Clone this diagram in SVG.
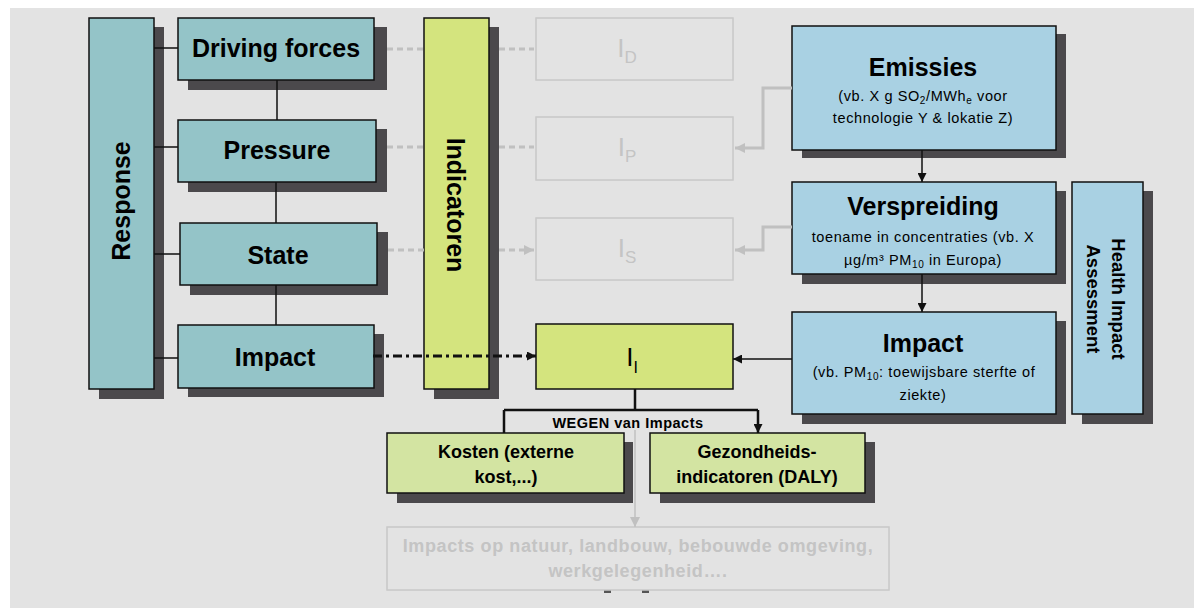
<svg xmlns="http://www.w3.org/2000/svg" width="1194" height="608" viewBox="0 0 1194 608">
<defs>
<style>
.sh{fill:#4b494c}
.teal{fill:#94c4c8;stroke:#111;stroke-width:1.5}
.blue{fill:#a9d1e3;stroke:#111;stroke-width:1.5}
.yel{fill:#d4e47e;stroke:#111;stroke-width:1.5}
.lgr{fill:#d3e4a2;stroke:#111;stroke-width:1.5}
.ghost{fill:none;stroke:#c8c8c8;stroke-width:1.5}
.t{font-family:"Liberation Sans",Arial,sans-serif;fill:#000;text-anchor:middle}
.big{font-size:25px;font-weight:bold}
.small{font-size:14.5px;letter-spacing:0.6px}
.mid{font-size:18px;font-weight:bold}
.gt{fill:#c4c4c4}
.ln{stroke:#111;stroke-width:1.5;fill:none}
.gl{stroke:#c0c0c0;stroke-width:3;fill:none}
.gd{stroke:#c0c0c0;stroke-width:3;fill:none;stroke-dasharray:6 4}
</style>
<marker id="ab" viewBox="0 0 10 10" refX="10" refY="5" markerWidth="9" markerHeight="9" markerUnits="userSpaceOnUse" orient="auto"><path d="M0,0L10,5L0,10z" fill="#111"/></marker>
<marker id="ag" viewBox="0 0 10 10" refX="10" refY="5" markerWidth="10" markerHeight="10" markerUnits="userSpaceOnUse" orient="auto"><path d="M0,0L10,5L0,10z" fill="#c0c0c0"/></marker>
</defs>
<rect x="0" y="0" width="1194" height="608" fill="#fff"/>
<rect x="10" y="8" width="1184" height="600" fill="#e3e3e3"/>

<g id="response">
<rect class="sh" x="99" y="27" width="65" height="372"/>
<rect class="teal" x="89" y="18" width="65" height="371"/>
<text class="t big" transform="translate(121,201) rotate(-90)" x="0" y="9">Response</text>
</g>
<g id="driving">
<rect class="sh" x="188" y="27" width="199" height="63"/>
<rect class="teal" x="178" y="18" width="196" height="62"/>
<text class="t big" x="276" y="57">Driving forces</text>
</g>
<g id="pressure">
<rect class="sh" x="188" y="129" width="199" height="63"/>
<rect class="teal" x="178" y="120" width="198" height="62"/>
<text class="t big" x="277" y="159">Pressure</text>
</g>
<g id="state">
<rect class="sh" x="190" y="232" width="198" height="63"/>
<rect class="teal" x="180" y="223" width="197" height="62"/>
<text class="t big" x="278" y="264">State</text>
</g>
<g id="impact-left">
<rect class="sh" x="188" y="334" width="196" height="63"/>
<rect class="teal" x="178" y="325" width="196" height="63"/>
<text class="t big" x="275" y="366">Impact</text>
</g>
<g id="indicatoren">
<rect class="sh" x="434" y="27" width="65" height="372"/>
<rect class="yel" x="424" y="18" width="65" height="371"/>
<text class="t big" transform="translate(456,205) rotate(90)" x="0" y="9">Indicatoren</text>
</g>
<g id="ID">
<rect class="ghost" x="536" y="18" width="197" height="62"/>
<text class="t gt" x="627" y="57" style="font-size:26px">I<tspan dy="6" style="font-size:17px">D</tspan></text>
</g>
<g id="IP">
<rect class="ghost" x="536" y="117" width="197" height="63"/>
<text class="t gt" x="627" y="156" style="font-size:26px">I<tspan dy="6" style="font-size:17px">P</tspan></text>
</g>
<g id="IS">
<rect class="ghost" x="536" y="218" width="197" height="62"/>
<text class="t gt" x="627" y="257" style="font-size:26px">I<tspan dy="6" style="font-size:17px">S</tspan></text>
</g>
<g id="II">
<rect class="yel" x="536" y="324" width="197" height="65"/>
<text class="t" x="632" y="366" style="font-size:26px">I<tspan dy="7" style="font-size:16px">I</tspan></text>
</g>
<g id="emissies">
<rect class="sh" x="802" y="34" width="264" height="124"/>
<rect class="blue" x="792" y="26" width="264" height="124"/>
<text class="t big" x="923" y="76">Emissies</text>
<text class="t small" x="923" y="101">(vb. X g SO<tspan dy="3" style="font-size:10px">2</tspan><tspan dy="-3">/MWh</tspan><tspan dy="3" style="font-size:10px">e</tspan><tspan dy="-3"> voor</tspan></text>
<text class="t small" x="923" y="123">technologie Y &amp; lokatie Z)</text>
</g>
<g id="verspreiding">
<rect class="sh" x="802" y="191" width="264" height="93"/>
<rect class="blue" x="792" y="182" width="264" height="92"/>
<text class="t big" x="923" y="215">Verspreiding</text>
<text class="t small" x="923" y="242">toename in concentraties (vb. X</text>
<text class="t small" x="923" y="265">µg/m³ PM<tspan dy="3" style="font-size:10px">10</tspan><tspan dy="-3"> in Europa)</tspan></text>
</g>
<g id="impact-right">
<rect class="sh" x="802" y="321" width="264" height="103"/>
<rect class="blue" x="792" y="312" width="264" height="102"/>
<text class="t big" x="923" y="352">Impact</text>
<text class="t small" x="924" y="377">(vb. PM<tspan dy="3" style="font-size:10px">10</tspan><tspan dy="-3">:  toewijsbare sterfte of</tspan></text>
<text class="t small" x="923" y="400">ziekte)</text>
</g>
<g id="hia">
<rect class="sh" x="1082" y="191" width="71" height="233"/>
<rect class="blue" x="1072" y="182" width="71" height="232"/>
<text class="t mid" transform="translate(1107,299) rotate(90)" x="0" y="-4.5" style="font-size:18.5px">Health Impact</text>
<text class="t mid" transform="translate(1107,299) rotate(90)" x="0" y="20.5" style="font-size:18.5px">Assessment</text>
</g>
<g id="kosten">
<rect class="sh" x="397" y="442" width="236" height="61"/>
<rect class="lgr" x="387" y="433" width="237" height="60"/>
<text class="t mid" x="506" y="458">Kosten (externe</text>
<text class="t mid" x="506" y="483">kost,...)</text>
</g>
<g id="gezondheid">
<rect class="sh" x="660" y="442" width="215" height="61"/>
<rect class="lgr" x="650" y="433" width="215" height="60"/>
<text class="t mid" x="757" y="458">Gezondheids-</text>
<text class="t mid" x="757" y="483">indicatoren (DALY)</text>
</g>
<g id="other-impacts">
<rect x="604" y="589" width="7" height="4" fill="#555"/>
<rect x="642" y="589" width="7" height="4" fill="#555"/>
<rect x="387" y="527" width="502" height="63" fill="#e3e3e3" stroke="#c8c8c8" stroke-width="1.5"/>
<text class="t mid gt" x="638" y="552" style="letter-spacing:0.6px">Impacts op natuur, landbouw, bebouwde omgeving,</text>
<text class="t mid gt" x="638" y="577" style="letter-spacing:0.6px">werkgelegenheid….</text>
</g>

<g id="connectors">
<path class="ln" d="M154,48H178M154,147H178M154,254H180M154,358H178M277,80V120M276,182V223M276,285V325"/>
<path class="gd" d="M387,49H424M387,147H424M388,250H424"/>
<path class="gd" d="M499,49H534M499,147H534M499,250H534" marker-end="url(#ag)"/>
<path class="gl" d="M792,88H763V148H735" marker-end="url(#ag)"/>
<path class="gl" d="M792,227H763V250H735" marker-end="url(#ag)"/>
<path d="M373,356H536" stroke="#111" stroke-width="3" fill="none" stroke-dasharray="9 4 3 4" marker-end="url(#ab)"/>
<path class="ln" d="M792,359H733" marker-end="url(#ab)"/>
<path class="ln" d="M922,150V182" marker-end="url(#ab)"/>
<path class="ln" d="M922,274V312" marker-end="url(#ab)"/>
<path d="M635,389V410M504,410H758" stroke="#111" stroke-width="2.5" fill="none"/>
<path d="M504,410V433M758,410V433" stroke="#111" stroke-width="2.5" fill="none" marker-end="url(#ab)"/>
<path d="M635,430V527" stroke="#c0c0c0" stroke-width="1.5" fill="none" marker-end="url(#ag)"/>
<text class="t" x="628" y="428" style="font-size:14.5px;font-weight:bold;letter-spacing:0.5px">WEGEN van  Impacts</text>
</g>
</svg>
